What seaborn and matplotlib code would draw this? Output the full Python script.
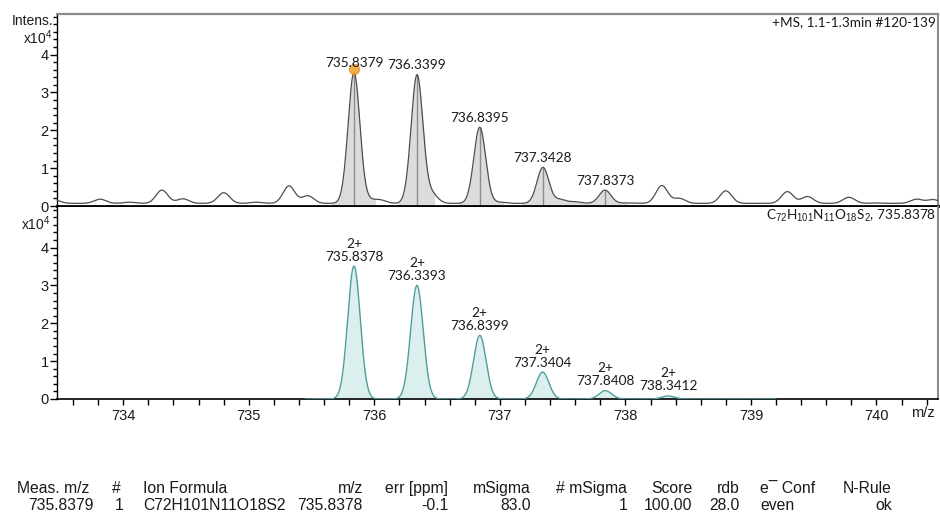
import numpy as np
import pandas as pd
import matplotlib
matplotlib.use("Agg")
import matplotlib.pyplot as plt
from matplotlib.ticker import FixedLocator, MultipleLocator
import seaborn as sns

# ---- measured spectrum (+MS), intensities in units of 1e4 counts ----
meas_mz = [735.8379, 736.3399, 736.8395, 737.3428, 737.8373]
meas_int = [3.52, 3.46, 2.08, 1.02, 0.42]
meas_labels = ["735.8379", "736.3399", "736.8395", "737.3428", "737.8373"]
# integration windows (shaded) around each isotope peak
meas_windows = [(735.66, 736.01), (736.18, 736.48), (736.67, 737.03),
                (737.17, 737.66), (737.66, 738.02)]

# smaller background signals in the measured trace
noise_mz = [733.45, 733.815, 734.05, 734.308, 734.475, 734.80, 735.06, 735.32,
            735.47, 735.97, 736.05, 736.46, 737.00, 737.48, 737.60, 738.00,
            738.29, 738.43, 738.80, 739.29, 739.45, 739.78, 740.00, 740.32, 740.45]
noise_int = [0.16, 0.18, 0.10, 0.42, 0.19, 0.35, 0.10, 0.53,
             0.27, 0.14, 0.15, 0.30, 0.10, 0.17, 0.11, 0.08,
             0.54, 0.20, 0.40, 0.38, 0.25, 0.23, 0.08, 0.18, 0.17]
meas_baseline = 0.07

# ---- simulated isotope pattern for the assigned formula ----
sim_mz = [735.8378, 736.3393, 736.8399, 737.3404, 737.8408, 738.3412]
sim_int = [3.51, 3.00, 1.68, 0.71, 0.22, 0.08]
sim_charge = ["2+", "2+", "2+", "2+", "2+", "2+"]
sim_labels = ["735.8378", "736.3393", "736.8399", "737.3404", "737.8408", "738.3412"]

# ---- axis ticks ----
y_major = [0, 1, 2, 3, 4]
x_major = [734, 735, 736, 737, 738, 739, 740]

# ---- result table ----
table_headers = ["Meas. m/z", "#", "Ion Formula", "m/z", "err [ppm]", "mSigma",
                 "# mSigma", "Score", "rdb", "e\u00af Conf", "N-Rule"]
table_values = ["735.8379", "1", "C72H101N11O18S2", "735.8378", "-0.1", "83.0",
                "1", "100.00", "28.0", "even", "ok"]

XLIM = (733.472, 740.49)
YLIM = (0, 5.07)


def profile(grid, centers, apexes, sigma, base):
    y = np.full_like(grid, base)
    for c, h in zip(centers, apexes):
        y += (h - base) * np.exp(-0.5 * ((grid - c) / sigma) ** 2)
    return y


sns.set_theme(style="white")
plt.rcParams["font.family"] = ["Liberation Sans", "DejaVu Sans"]
plt.rcParams["mathtext.fontset"] = "custom"
plt.rcParams["mathtext.rm"] = "Liberation Sans"
plt.rcParams["mathtext.it"] = "Liberation Sans"
LABEL_FONT = ["Lato", "DejaVu Sans"]

fig = plt.figure(figsize=(9.4, 5.16), dpi=100)
W, H = 940, 516
ax1 = fig.add_axes([57 / W, 1 - 206 / H, (938 - 57) / W, 192 / H])
ax2 = fig.add_axes([57 / W, 1 - 399 / H, (938 - 57) / W, 192 / H])

# ---- top panel: measured profile ----
grid1 = np.linspace(XLIM[0], XLIM[1], 4000)
y1 = profile(grid1, meas_mz + noise_mz, meas_int + noise_int, 0.047, meas_baseline)
df1 = pd.DataFrame({"mz": grid1, "intensity": y1})

for lo, hi in meas_windows:
    m = (grid1 >= lo) & (grid1 <= hi)
    ax1.fill_between(grid1[m], 0, y1[m], color="#dcdcdc", lw=0)
ax1.vlines(meas_mz, 0, meas_int, color="#8c8c8c", lw=1.0, zorder=2)
sns.lineplot(data=df1, x="mz", y="intensity", ax=ax1, color="#4d4d4d",
             lw=0.9, estimator=None, sort=True, zorder=3)
sns.scatterplot(x=[meas_mz[0]], y=[meas_int[0] + 0.1], ax=ax1, s=55,
                color="#f2a535", edgecolor="#e08d20", linewidth=0.6,
                alpha=0.9, zorder=4)
for mz, h, lab in zip(meas_mz, meas_int, meas_labels):
    ax1.annotate(lab, (mz, h), xytext=(0, 4), textcoords="offset points",
                 ha="center", va="baseline", fontsize=9.8,
                 family=LABEL_FONT, color="#1a1a1a", zorder=5)
ax1.text(0.998, 0.955, "+MS, 1.1-1.3min #120-139", transform=ax1.transAxes,
         ha="right", va="center", fontsize=9.8, family=LABEL_FONT,
         color="#1a1a1a")

# ---- bottom panel: simulated pattern ----
grid2 = np.linspace(735.45, 739.2, 3000)
y2 = profile(grid2, sim_mz, sim_int, 0.05, 0.0)
df2 = pd.DataFrame({"mz": grid2, "intensity": y2})
ax2.fill_between(grid2, 0, y2, color="#dcefef", lw=0)
sns.lineplot(data=df2, x="mz", y="intensity", ax=ax2, color="#4f9e9e",
             lw=1.0, estimator=None, sort=True, zorder=3)
for mz, h, ch, lab in zip(sim_mz, sim_int, sim_charge, sim_labels):
    ax2.annotate(f"{ch}\n{lab}", (mz, h), xytext=(0, 4),
                 textcoords="offset points", ha="center", va="baseline",
                 fontsize=9.8, family=LABEL_FONT, color="#1a1a1a",
                 linespacing=1.1, zorder=5)
ax2.text(0.998, 0.955,
         r"C$_{72}$H$_{101}$N$_{11}$O$_{18}$S$_{2}$, 735.8378",
         transform=ax2.transAxes, ha="right", va="center", fontsize=9.8,
         family=LABEL_FONT, color="#1a1a1a")

# ---- axes styling ----
for ax in (ax1, ax2):
    ax.set_xlim(*XLIM)
    ax.set_ylim(*YLIM)
    ax.set_xlabel("")
    ax.set_ylabel("")
    ax.yaxis.set_major_locator(FixedLocator(y_major))
    ax.yaxis.set_minor_locator(MultipleLocator(0.2))
    ax.tick_params(axis="y", which="major", direction="out", length=5,
                   width=1, color="black", labelsize=10.5, pad=1,
                   left=True, labelcolor="#1a1a1a")
    ax.tick_params(axis="y", which="minor", direction="out", length=3,
                   width=1, color="black", left=True)
    ax.spines["left"].set_color("black")
    ax.spines["left"].set_linewidth(1.0)
    ax.spines["right"].set_color("#8c8c8c")
    ax.spines["right"].set_linewidth(1.5)
    ax.set_facecolor("white")

ax1.tick_params(axis="x", which="both", bottom=False, labelbottom=False)
ax1.spines["top"].set_color("#8c8c8c")
ax1.spines["top"].set_linewidth(1.6)
ax1.spines["bottom"].set_color("black")
ax1.spines["bottom"].set_linewidth(2.0)
ax1.spines["bottom"].set_zorder(6)

ax2.spines["top"].set_visible(False)
ax2.spines["bottom"].set_color("black")
ax2.spines["bottom"].set_linewidth(1.2)
ax2.xaxis.set_major_locator(FixedLocator(x_major))
ax2.xaxis.set_minor_locator(MultipleLocator(0.2))
ax2.tick_params(axis="x", which="both", direction="out", length=4, width=1,
                color="black", bottom=True, labelsize=10.5, pad=3,
                labelcolor="#1a1a1a")

# axis captions
fig.text(53 / W, 1 - 21 / H, "Intens.", ha="right", va="center",
         fontsize=10, color="#1a1a1a")
fig.text(53 / W, 1 - 38 / H, r"x10$^{4}$", ha="right", va="center",
         fontsize=10, color="#1a1a1a")
fig.text(51 / W, 1 - 223.5 / H, r"x10$^{4}$", ha="right", va="center",
         fontsize=10, color="#1a1a1a")
fig.text(935 / W, 1 - 413 / H, "m/z", ha="right", va="center",
         fontsize=10.5, color="#1a1a1a")

# ---- result table below the chart ----
col_x = [17, 112, 143, 363, 448, 531, 627, 692, 740, 760, 892]
head_align = ["left", "left", "left", "right", "right", "right", "right",
              "right", "right", "left", "right"]
val_align = ["right", "left", "left", "right", "right", "right", "right",
             "right", "right", "left", "right"]
val_x = [94, 115, 143, 363, 448, 531, 627, 692, 740, 760, 892]
for x, a, txt in zip(col_x, head_align, table_headers):
    fig.text(x / W, 1 - 493 / H, txt, ha=a, va="baseline", fontsize=11.3,
             color="#1a1a1a")
for x, a, txt in zip(val_x, val_align, table_values):
    fig.text(x / W, 1 - 510 / H, txt, ha=a, va="baseline", fontsize=11.3,
             color="#1a1a1a")

fig.savefig("out.png", dpi=100, facecolor="white")
